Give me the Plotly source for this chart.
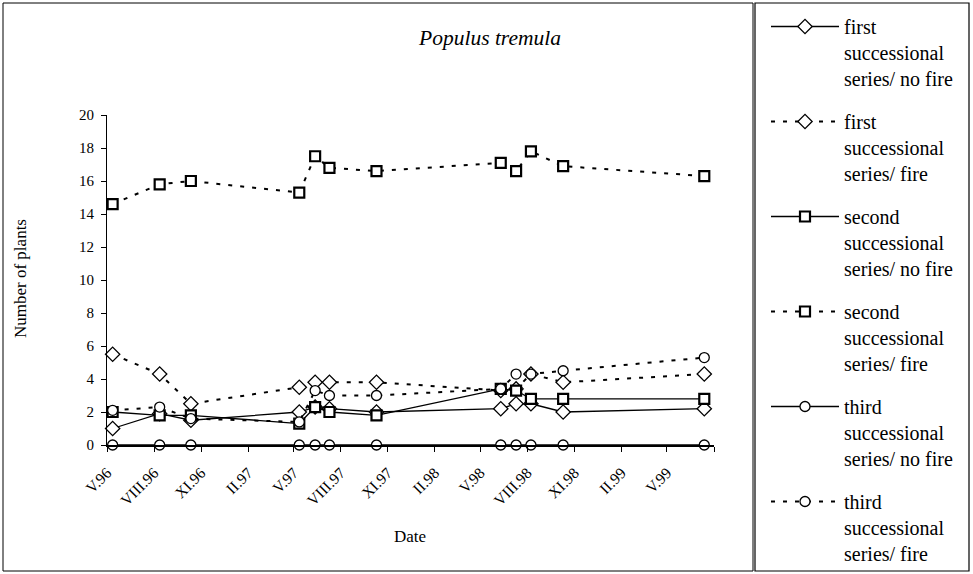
import plotly.graph_objects as go

# ---- data ----
dates = ["1996-05-12", "1996-08-12", "1996-10-12", "1997-05-12", "1997-06-12", "1997-07-10",
         "1997-10-10", "1998-06-10", "1998-07-10", "1998-08-08", "1998-10-10", "1999-07-13"]

first_nofire = [1.0, 1.9, 1.5, 2.0, 2.3, 2.2, 2.0, 2.2, 2.5, 2.5, 2.0, 2.2]
first_fire = [5.5, 4.3, 2.5, 3.5, 3.8, 3.8, 3.8, 3.3, 3.4, 4.3, 3.8, 4.3]
second_nofire = [2.0, 1.8, 1.8, 1.3, 2.3, 2.0, 1.8, 3.4, 3.3, 2.8, 2.8, 2.8]
second_fire = [14.6, 15.8, 16.0, 15.3, 17.5, 16.8, 16.6, 17.1, 16.6, 17.8, 16.9, 16.3]
third_nofire = [0, 0, 0, 0, 0, 0, 0, 0, 0, 0, 0, 0]
third_fire = [2.1, 2.3, 1.6, 1.4, 3.3, 3.0, 3.0, 3.4, 4.3, 4.3, 4.5, 5.3]

series_names = [
    "first<br>successional<br>series/ no fire",
    "first<br>successional<br>series/ fire",
    "second<br>successional<br>series/ no fire",
    "second<br>successional<br>series/ fire",
    "third<br>successional<br>series/ no fire",
    "third<br>successional<br>series/ fire",
]

tick_dates = ["1996-05-01", "1996-08-01", "1996-11-01", "1997-02-01", "1997-05-01", "1997-08-01",
              "1997-11-01", "1998-02-01", "1998-05-01", "1998-08-01", "1998-11-01", "1999-02-01",
              "1999-05-01", "1999-08-01"]
tick_labels = ["V.96", "VIII.96", "XI.96", "II.97", "V.97", "VIII.97", "XI.97", "II.98",
               "V.98", "VIII.98", "XI.98", "II.99", "V.99", ""]

FONT = "Liberation Serif, Times New Roman, serif"
DASH = "4px,8px"

styles = [
    (first_nofire, "diamond", 11, 1.3, "solid", 1.3),
    (first_fire, "diamond", 11, 1.3, DASH, 2),
    (second_nofire, "square", 10, 2.2, "solid", 1.3),
    (second_fire, "square", 10, 2.2, DASH, 2),
    (third_nofire, "circle", 10, 1.3, "solid", 1.6),
    (third_fire, "circle", 10, 1.3, DASH, 2),
]

fig = go.Figure()
for i, (vals, sym, size, mlw, dash, lw) in enumerate(styles):
    fig.add_trace(go.Scatter(
        x=dates, y=vals, name=series_names[i], mode="lines+markers",
        legendgroup=f"g{i}",
        line=dict(color="black", width=lw, dash=dash),
        marker=dict(symbol=sym, size=size, color="white",
                    line=dict(color="black", width=mlw)),
        cliponaxis=False,
    ))

W, H = 973, 574
L, R, T, B = 107, 714, 115, 445
pw, ph = R - L, B - T


def px(x):
    return (x - L) / pw


def py(y):
    return (B - y) / ph


fig.update_layout(
    width=W, height=H,
    margin=dict(l=L, r=W - R, t=T, b=H - B, autoexpand=False),
    paper_bgcolor="white", plot_bgcolor="white",
    font=dict(family=FONT, color="black", size=15),
    title=dict(text="<i>Populus tremula</i>", x=490 / W, xanchor="center",
               y=1 - 37 / H, yanchor="middle", font=dict(size=21.5, family=FONT)),
    showlegend=True,
    legend=dict(x=px(766), y=1 - 7 / H, xanchor="left", yanchor="top", yref="container",
                maxheight=1,
                font=dict(size=20, family=FONT), valign="top",
                traceorder="grouped", tracegroupgap=14, itemwidth=68,
                bgcolor="rgba(0,0,0,0)"),
    xaxis=dict(type="date", range=["1996-05-01", "1999-08-01"],
               tickmode="array", tickvals=tick_dates, ticktext=tick_labels,
               tickangle=-45, ticks="outside", ticklen=5, tickcolor="black",
               ticklabelstandoff=6,
               showline=True, linecolor="black", linewidth=1.5, showgrid=False,
               zeroline=False, tickfont=dict(size=15.5, family=FONT)),
    yaxis=dict(range=[0, 20], dtick=2, ticks="outside", ticklen=5, tickcolor="black",
               showline=True, linecolor="black", linewidth=1, showgrid=False,
               zeroline=False, ticklabelstandoff=4, tickfont=dict(size=15, family=FONT)),
    annotations=[
        dict(text="Date", xref="paper", yref="paper", x=px(410), y=py(536),
             xanchor="center", yanchor="middle",
             showarrow=False, font=dict(size=17, family=FONT)),
        dict(text="Number of plants", xref="paper", yref="paper", x=px(20), y=py(279),
             xanchor="center", yanchor="middle",
             textangle=-90, showarrow=False, font=dict(size=17, family=FONT)),
    ],
    shapes=[
        dict(type="rect", xref="paper", yref="paper", x0=px(3), x1=px(753),
             y0=py(571), y1=py(3), line=dict(color="black", width=1)),
        dict(type="rect", xref="paper", yref="paper", x0=px(755), x1=px(969),
             y0=py(571), y1=py(3), line=dict(color="black", width=1.2)),
    ],
)

fig.write_html("out.html", config={"displayModeBar": False},
               post_script="document.body.style.margin='0';document.body.style.overflow='hidden';")
